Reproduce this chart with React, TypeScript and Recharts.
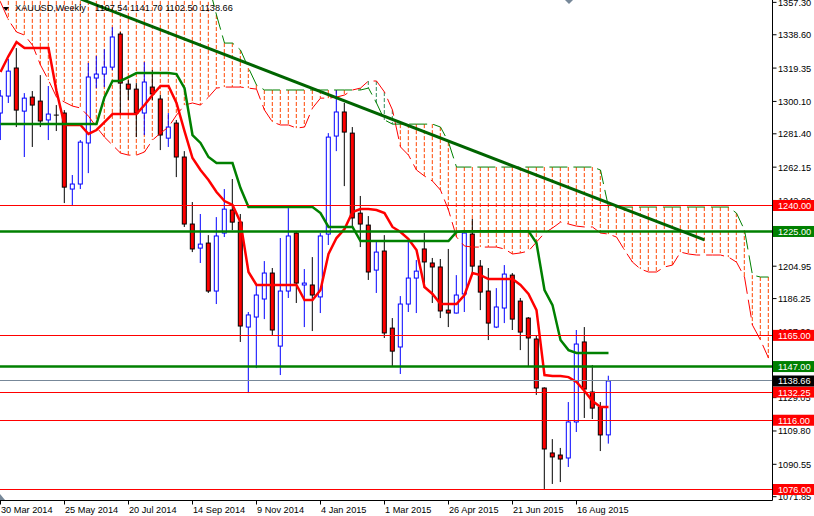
import { ComposedChart, Bar, Line, XAxis, YAxis, ReferenceLine } from "recharts";

const FONT = '"Liberation Sans", Arial, sans-serif';
const BULL = "#0000FF";
const RED = "#FF0000";
const GREEN = "#008000";
const TREND = "#006400";
const KUMO_DOWN = "#FF4500";
const KUMO_UP = "#2E8B57";
const LAST_GRAY = "#778899";

// weekly XAUUSD candles, 30 Mar 2014 .. 13 Sep 2015
const OPEN = [
  1293.4, 1303.2, 1319.4, 1294.5, 1302.6, 1300.3, 1289.4, 1292.2, 1293.4, 1249.5,
  1252.4, 1276.1, 1313.6, 1315.9, 1319.9, 1339.0, 1310.1, 1307.2, 1293.4, 1308.4,
  1301.5, 1278.9, 1287.6, 1268.0, 1229.3, 1215.4, 1218.3, 1190.6, 1224.1, 1237.4,
  1230.4, 1169.8, 1175.6, 1186.0, 1201.0, 1158.8, 1190.6, 1224.1, 1194.1, 1194.1,
  1187.2, 1223.5, 1280.1, 1294.0, 1281.8, 1235.6, 1228.7, 1202.7, 1213.7, 1169.2,
  1158.3, 1183.1, 1198.1, 1214.9, 1206.8, 1204.5, 1179.6, 1177.9, 1188.9, 1223.5,
  1205.0, 1190.6, 1169.8, 1180.8, 1199.8, 1184.8, 1175.0, 1162.9, 1134.6, 1097.1,
  1095.9, 1094.2, 1115.0, 1161.2, 1132.3, 1123.6, 1107.54,
];
const HIGH = [
  1306.7, 1324.6, 1330.9, 1304.9, 1306.1, 1315.3, 1309.0, 1298.0, 1295.1, 1257.6,
  1277.8, 1322.3, 1326.3, 1330.3, 1343.0, 1340.2, 1312.4, 1310.7, 1322.8, 1318.2,
  1303.8, 1293.4, 1289.4, 1271.4, 1242.0, 1235.1, 1222.9, 1233.3, 1249.5, 1255.3,
  1235.1, 1178.5, 1194.1, 1207.9, 1203.9, 1221.2, 1238.5, 1224.6, 1203.3, 1210.2,
  1224.1, 1281.8, 1306.7, 1299.2, 1285.3, 1245.5, 1233.9, 1218.9, 1222.9, 1175.0,
  1187.7, 1220.1, 1208.5, 1224.1, 1209.7, 1209.1, 1214.9, 1199.8, 1224.7, 1232.2,
  1208.5, 1203.9, 1192.3, 1205.6, 1201.0, 1186.6, 1175.6, 1165.2, 1135.0, 1105.1,
  1100.0, 1126.5, 1168.1, 1169.8, 1147.9, 1126.5, 1141.7,
];
const LOW = [
  1277.8, 1299.2, 1285.3, 1268.0, 1273.8, 1285.3, 1277.8, 1283.0, 1241.4, 1239.7,
  1249.5, 1258.7, 1307.8, 1308.4, 1318.2, 1293.4, 1300.9, 1279.5, 1280.7, 1300.9,
  1272.0, 1273.8, 1256.4, 1227.6, 1213.1, 1206.8, 1189.5, 1183.1, 1221.8, 1225.8,
  1161.2, 1131.7, 1146.1, 1174.4, 1165.2, 1142.1, 1186.6, 1183.7, 1169.8, 1167.5,
  1177.9, 1217.2, 1271.4, 1251.2, 1227.6, 1216.0, 1197.0, 1189.5, 1163.5, 1147.3,
  1142.7, 1178.5, 1177.9, 1192.3, 1183.7, 1175.0, 1169.8, 1177.6, 1178.5, 1201.0,
  1179.6, 1162.3, 1169.2, 1172.1, 1168.1, 1156.5, 1146.7, 1130.6, 1076.3, 1079.2,
  1080.3, 1089.0, 1109.2, 1117.3, 1116.7, 1098.2, 1102.5,
];
const CLOSE = [
  1303.2, 1317.6, 1295.1, 1302.0, 1298.0, 1288.8, 1292.8, 1292.2, 1250.6, 1252.4,
  1276.6, 1314.2, 1315.9, 1319.9, 1337.3, 1310.7, 1307.2, 1293.4, 1311.3, 1304.4,
  1280.7, 1285.3, 1268.0, 1229.3, 1214.9, 1217.7, 1190.6, 1222.4, 1237.9, 1230.4,
  1170.4, 1176.8, 1188.3, 1201.0, 1168.1, 1190.6, 1222.4, 1195.2, 1195.2, 1188.3,
  1222.4, 1279.5, 1294.0, 1282.4, 1232.8, 1229.3, 1201.6, 1213.1, 1166.4, 1155.9,
  1183.1, 1198.1, 1202.1, 1207.4, 1204.5, 1179.1, 1177.9, 1188.3, 1224.1, 1205.0,
  1190.0, 1172.1, 1181.4, 1200.4, 1174.4, 1166.9, 1163.5, 1134.6, 1099.4, 1094.8,
  1093.6, 1115.0, 1160.0, 1134.0, 1123.0, 1107.5, 1138.66,
];

// Ichimoku lines
const TENKAN = [
  1317.1, 1326.3, 1334.4, 1330.9, 1330.9, 1330.9, 1330.9, 1306.1, 1286.5, 1286.5,
  1286.5, 1281.3, 1283.6, 1288.2, 1292.8, 1292.8, 1292.8, 1292.8, 1298.0, 1303.8,
  1309.0, 1309.0, 1299.2, 1283.0, 1267.4, 1260.5, 1254.7, 1247.8, 1242.6, 1240.3,
  1230.4, 1201.6, 1194.1, 1194.1, 1194.1, 1194.1, 1194.1, 1194.1, 1185.4, 1185.4,
  1191.2, 1212.0, 1221.2, 1226.4, 1236.2, 1238.0, 1238.0, 1237.4, 1235.6, 1227.6,
  1224.7, 1220.6, 1214.3, 1192.9, 1188.9, 1183.1, 1183.1, 1183.1, 1188.3, 1201.0,
  1199.8, 1197.5, 1197.5, 1197.5, 1197.5, 1194.1, 1188.9, 1179.6, 1142.1, 1141.5,
  1141.5, 1140.9, 1138.1, 1132.9, 1127.1, 1123.6, 1123.6,
];
const KIJUN = [
  1287.0, 1287.0, 1287.0, 1287.0, 1287.0, 1287.0, 1287.0, 1287.0, 1287.0, 1287.0,
  1287.0, 1287.0, 1287.0, 1302.6, 1311.9, 1311.9, 1314.2, 1316.5, 1316.5, 1316.5,
  1316.5, 1316.5, 1315.9, 1307.8, 1280.7, 1276.1, 1268.0, 1264.5, 1264.5, 1264.5,
  1250.1, 1239.1, 1239.1, 1239.1, 1239.1, 1239.1, 1239.1, 1239.1, 1239.1, 1239.1,
  1235.6, 1227.6, 1227.6, 1227.6, 1227.6, 1219.5, 1219.5, 1219.5, 1219.5, 1219.5,
  1219.5, 1219.5, 1219.5, 1219.5, 1219.5, 1219.5, 1219.5, 1224.7, 1225.2, 1225.2,
  1225.2, 1225.2, 1225.2, 1225.2, 1225.2, 1225.2, 1225.2, 1218.3, 1191.2, 1182.5,
  1162.3, 1156.5, 1154.8, 1154.8, 1154.8, 1154.8, 1154.8,
];
const SPAN_A = [
  1357.5, 1347.1, 1340.2, 1338.4, 1332.6, 1321.1, 1312.4, 1302.6, 1299.7, 1297.4,
  1296.3, 1291.6, 1285.3, 1279.5, 1274.9, 1270.3, 1269.1, 1269.1, 1270.9, 1277.8,
  1281.8, 1285.3, 1292.2, 1298.0, 1299.2, 1298.0, 1302.6, 1307.8, 1308.4, 1308.4,
  1308.4, 1307.8, 1307.2, 1295.1, 1288.2, 1286.5, 1286.5, 1284.7, 1285.3, 1296.3,
  1302.0, 1302.0, 1302.6, 1303.8, 1306.7, 1307.8, 1311.9, 1311.9, 1305.5, 1295.1,
  1273.8, 1269.1, 1260.5, 1257.0, 1254.1, 1248.9, 1237.4, 1221.8, 1216.6, 1216.0,
  1216.0, 1216.0, 1216.0, 1214.9, 1212.0, 1212.6, 1213.7, 1218.9, 1224.1, 1227.0,
  1230.4, 1229.3, 1228.1, 1227.6, 1227.6, 1224.1, 1223.5, 1221.8, 1214.3, 1207.3,
  1203.3, 1201.6, 1201.6, 1204.5, 1205.6, 1213.1, 1212.0, 1211.4, 1211.4, 1211.4,
  1211.4, 1210.2, 1207.3, 1198.7, 1170.9, 1162.3, 1151.9,
];
const SPAN_B = [
  1372, 1372, 1372, 1372, 1372, 1372, 1372, 1372, 1372, 1372,
  1372, 1372, 1372, 1372, 1372, 1372, 1372, 1372, 1372, 1372,
  1372, 1372, 1372, 1372, 1372, 1372, 1368, 1350.0, 1333.8, 1333.8,
  1329.8, 1319.4, 1309.6, 1306.7, 1306.7, 1306.7, 1306.7, 1306.7, 1306.7, 1306.7,
  1306.7, 1306.7, 1306.7, 1306.7, 1306.7, 1306.7, 1307.8, 1299.2, 1289.4, 1287.0,
  1287.0, 1287.0, 1287.0, 1287.0, 1287.0, 1285.3, 1276.6, 1262.2, 1262.2, 1262.2,
  1262.2, 1262.2, 1262.2, 1262.2, 1262.2, 1262.2, 1262.2, 1262.2, 1262.2, 1262.2,
  1262.2, 1262.2, 1262.2, 1262.2, 1262.2, 1260.5, 1239.1, 1239.1, 1239.1, 1239.1,
  1239.1, 1239.1, 1239.1, 1239.1, 1239.1, 1239.1, 1239.1, 1239.1, 1239.1, 1239.1,
  1239.1, 1239.1, 1235.6, 1225.8, 1199.8, 1198.7, 1198.7,
];

const Y_TICKS = [
  1357.3, 1338.6, 1319.35, 1300.1, 1281.4, 1262.15, 1242.9, 1224.2,
  1204.95, 1186.25, 1167.0, 1147.75, 1129.05, 1109.8, 1090.55, 1071.85,
];
const RED_LEVELS = [1240, 1165, 1132.25, 1116, 1076];
const GREEN_LEVELS = [1225, 1147];
const LAST_PRICE = 1138.66;

const DATE_IDX = [0, 8, 16, 24, 32, 40, 48, 56, 64, 72];
const DATE_LABELS = [
  "30 Mar 2014", "25 May 2014", "20 Jul 2014", "14 Sep 2014", "9 Nov 2014",
  "4 Jan 2015", "1 Mar 2015", "26 Apr 2015", "21 Jun 2015", "16 Aug 2015",
];

// trend line anchors: [bar index, price]
const TREND_FROM = [10, 1359.3];
const TREND_TO = [88, 1220.1];

const rows = SPAN_A.map((a, i) => {
  const b = SPAN_B[i];
  const has = i < CLOSE.length;
  return {
    i,
    candle: has ? [LOW[i], HIGH[i]] : null,
    o: has ? OPEN[i] : null,
    h: has ? HIGH[i] : null,
    l: has ? LOW[i] : null,
    c: has ? CLOSE[i] : null,
    tenkan: has ? TENKAN[i] : null,
    kijun: has ? KIJUN[i] : null,
    spanA: a,
    spanB: b,
    kumo: [Math.min(a, b), Math.max(a, b)],
  };
});

function Candle(props: any) {
  const { x, y, width, height, payload } = props;
  if (!payload || payload.c == null) return <g />;
  const { o, h, l, c } = payload;
  const cx = x + width / 2;
  const y0 = Math.min(y, y + height);
  const y1 = Math.max(y, y + height);
  const k = h > l ? (y1 - y0) / (h - l) : 0;
  const at = (v: number) => y0 + (h - v) * k;
  const up = c > o;
  const edge = up ? BULL : "#000";
  const top = at(Math.max(o, c));
  const bot = at(Math.min(o, c));
  return (
    <g>
      <line x1={cx} x2={cx} y1={y0} y2={y1} stroke={edge} strokeWidth={1} />
      {c === o ? (
        <line x1={cx - 2.5} x2={cx + 2.5} y1={top} y2={top} stroke="#000" strokeWidth={1} />
      ) : (
        <rect
          x={cx - 2}
          y={top}
          width={4}
          height={Math.max(bot - top, 1)}
          fill={up ? "#fff" : RED}
          stroke={edge}
          strokeWidth={1}
        />
      )}
    </g>
  );
}

function KumoStroke(props: any) {
  const { x, y, width, height, payload } = props;
  if (!payload) return <g />;
  const cx = x + width / 2;
  const color = payload.spanB >= payload.spanA ? KUMO_DOWN : KUMO_UP;
  return (
    <line
      x1={cx}
      x2={cx}
      y1={Math.min(y, y + height)}
      y2={Math.max(y, y + height)}
      stroke={color}
      strokeWidth={1}
      strokeDasharray="4 2"
    />
  );
}

function PriceTick(props: any) {
  const { x, y, payload } = props;
  const v = payload.value;
  const label = v.toFixed(2);
  let bg: string | null = null;
  if (RED_LEVELS.includes(v)) bg = RED;
  else if (GREEN_LEVELS.includes(v)) bg = GREEN;
  else if (v === LAST_PRICE) bg = "#000";
  if (!bg) {
    return (
      <text x={x} y={y + 3.5} fontSize={9.2} fontFamily={FONT} fill="#000" textAnchor="start">
        {label}
      </text>
    );
  }
  return (
    <g>
      <rect x={x - 5} y={y - 5.5} width={44} height={11} fill={bg} />
      <text x={x} y={y + 3.5} fontSize={9.2} fontFamily={FONT} fill="#fff" textAnchor="start">
        {label}
      </text>
    </g>
  );
}

function DateTick(props: any) {
  const { x, y, payload } = props;
  const n = DATE_IDX.indexOf(payload.value);
  if (n < 0) return <g />;
  return (
    <g>
      <line x1={x} x2={x} y1={y} y2={y + 4} stroke="#000" strokeWidth={1} />
      <text x={x + 0.5} y={y + 12} fontSize={9.2} fontFamily={FONT} fill="#000" textAnchor="start">
        {DATE_LABELS[n]}
      </text>
    </g>
  );
}

export default function App() {
  const last = OPEN.length - 1;
  const ohlc = [OPEN[last], HIGH[last], LOW[last], CLOSE[last]].map((v) => v.toFixed(2)).join(" ");
  return (
    <div style={{ position: "relative", width: 814, height: 516, overflow: "hidden", background: "#fff" }}>
      <style>{"body{margin:0}"}</style>
      <div style={{ position: "absolute", left: -4, top: 0 }}>
        <ComposedChart width={818} height={516} data={rows} margin={{ top: 0, right: 0, bottom: 0, left: 0.5 }}>
          <XAxis
            dataKey="i"
            type="category"
            interval={0}
            tickLine={false}
            tickSize={0}
            tickMargin={0}
            axisLine={{ stroke: "#000" }}
            tick={(p: any) => <DateTick {...p} />}
            height={15.5}
          />
          <XAxis xAxisId="kumo" dataKey="i" type="category" hide />
          <YAxis
            orientation="right"
            type="number"
            domain={[1069.65, 1358.67]}
            allowDataOverflow
            ticks={[...Y_TICKS, ...GREEN_LEVELS, ...RED_LEVELS, LAST_PRICE]}
            interval={0}
            tickSize={4}
            tickMargin={1.5}
            tickLine={{ stroke: "#000" }}
            axisLine={{ stroke: "#000" }}
            tick={(p: any) => <PriceTick {...p} />}
            width={41.5}
          />
          <Bar xAxisId="kumo" dataKey="kumo" shape={(p: any) => <KumoStroke {...p} />} isAnimationActive={false} />
          <Line dataKey="spanA" stroke={RED} strokeWidth={1} strokeDasharray="18 6" dot={false} activeDot={false} isAnimationActive={false} />
          <Line dataKey="spanB" stroke={GREEN} strokeWidth={1} strokeDasharray="18 6" dot={false} activeDot={false} isAnimationActive={false} />
          <Bar dataKey="candle" shape={(p: any) => <Candle {...p} />} isAnimationActive={false} />
          <Line dataKey="tenkan" stroke={RED} strokeWidth={2.5} dot={false} activeDot={false} isAnimationActive={false} />
          <Line dataKey="kijun" stroke={GREEN} strokeWidth={2.5} dot={false} activeDot={false} isAnimationActive={false} />
          {RED_LEVELS.map((v) => (
            <ReferenceLine key={`r${v}`} y={v} stroke={RED} strokeWidth={1} shapeRendering="crispEdges" ifOverflow="hidden" />
          ))}
          {GREEN_LEVELS.map((v) => (
            <ReferenceLine key={`g${v}`} y={v} stroke={GREEN} strokeWidth={2.5} ifOverflow="hidden" />
          ))}
          <ReferenceLine y={LAST_PRICE} stroke={LAST_GRAY} strokeWidth={1} shapeRendering="crispEdges" ifOverflow="hidden" />
          <ReferenceLine
            segment={[
              { x: TREND_FROM[0], y: TREND_FROM[1] },
              { x: TREND_TO[0], y: TREND_TO[1] },
            ]}
            stroke={TREND}
            strokeWidth={3}
            ifOverflow="hidden"
          />
        </ComposedChart>
      </div>
      <svg width={814} height={516} style={{ position: "absolute", left: 0, top: 0, pointerEvents: "none" }}>
        <polygon points="3,7 9,7 6,11" fill="#000" />
        <text x={15} y={10.5} fontSize={9.2} fontFamily={FONT} fill="#000">
          XAUUSD,Weekly
        </text>
        <text x={95} y={10.5} fontSize={9.2} fontFamily={FONT} fill="#000">
          {ohlc}
        </text>
        <polygon points="565,0 573,0 569,4" fill={LAST_GRAY} />
        <polygon points="0,494 0,500 5,500" fill={LAST_GRAY} />
      </svg>
    </div>
  );
}
